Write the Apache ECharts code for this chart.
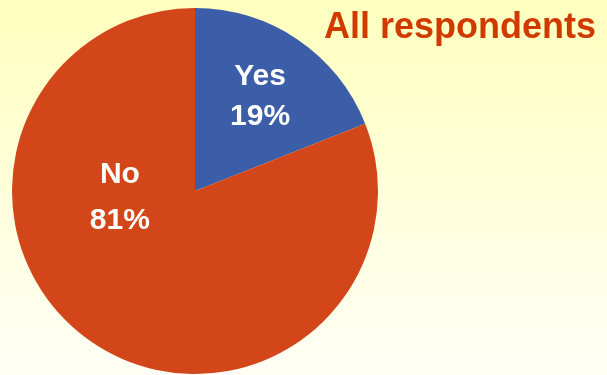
<!DOCTYPE html>
<html>
<head>
<meta charset="utf-8">
<script src="https://cdn.jsdelivr.net/npm/echarts@6/dist/echarts.min.js"></script>
<style>
  html, body { margin: 0; padding: 0; }
  #chart { width: 607px; height: 375px; }
</style>
</head>
<body>
<div id="chart"></div>
<script>
// Survey answers, share of all respondents (%)
const categories = ['Yes', 'No'];
const shares = [19, 81];
const sliceColors = ['#3C5EA8', '#D2461A'];
const labelOffsets = [[12, -16], [-22, -71]];
const labelLineHeights = [40, 46];

const chart = echarts.init(document.getElementById('chart'));

chart.setOption({
  backgroundColor: {
    type: 'linear', x: 0, y: 0, x2: 0, y2: 1,
    colorStops: [
      { offset: 0, color: '#FFFFBE' },
      { offset: 1, color: '#FFFFF6' }
    ]
  },
  title: {
    text: 'All respondents',
    right: 6,
    top: 5,
    textStyle: {
      fontFamily: 'Liberation Sans, Arial, sans-serif',
      fontSize: 36,
      fontWeight: 'bold',
      color: '#D03A00'
    }
  },
  series: [{
    type: 'pie',
    center: [195, 191],
    radius: [0, 183],
    startAngle: 90,
    clockwise: true,
    silent: true,
    animation: false,
    labelLine: { show: false },
    itemStyle: { borderWidth: 0 },
    data: categories.map((name, i) => ({
      name,
      value: shares[i],
      itemStyle: { color: sliceColors[i] },
      label: {
        show: true,
        position: 'inside',
        formatter: '{b}\n{c}%',
        offset: labelOffsets[i],
        lineHeight: labelLineHeights[i],
        fontFamily: 'Liberation Sans, Arial, sans-serif',
        fontSize: 30,
        fontWeight: 'bold',
        color: '#FFFFFF'
      }
    }))
  }]
});
</script>
</body>
</html>
